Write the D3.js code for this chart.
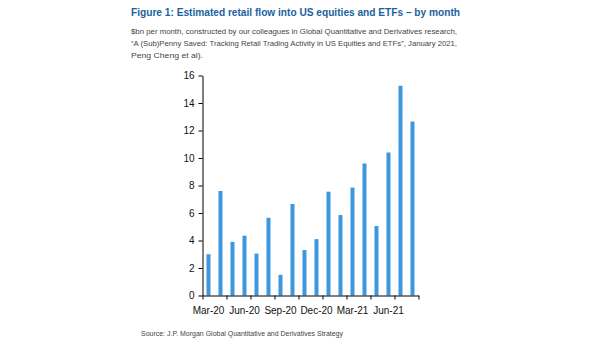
<!DOCTYPE html>
<html>
<head>
<meta charset="utf-8">
<script src="https://cdn.jsdelivr.net/npm/d3@7"></script>
<style>
  html, body { margin: 0; padding: 0; background: #fff; }
  svg { display: block; font-family: "Liberation Sans", Arial, sans-serif; }
</style>
</head>
<body>
<svg id="chart" width="605" height="341"></svg>
<script>
// Monthly retail flow into US equities and ETFs, $bn
const months = ["Mar-20","Apr-20","May-20","Jun-20","Jul-20","Aug-20","Sep-20","Oct-20","Nov-20",
                "Dec-20","Jan-21","Feb-21","Mar-21","Apr-21","May-21","Jun-21","Jul-21","Aug-21"];
const flows = [3.0, 7.6, 3.9, 4.35, 3.05, 5.65, 1.5, 6.65, 3.3, 4.1, 7.55, 5.85, 7.85, 9.6, 5.05, 10.4, 15.25, 12.65];
const xLabels = ["Mar-20","Jun-20","Sep-20","Dec-20","Mar-21","Jun-21"];
const yTicks = [0, 2, 4, 6, 8, 10, 12, 14, 16];

const title = "Figure 1: Estimated retail flow into US equities and ETFs \u2013 by month";
const notes = [
  "$bn per month, constructed by our colleagues in Global Quantitative and Derivatives research,",
  "\u201CA (Sub)Penny Saved: Tracking Retail Trading Activity in US Equities and ETFs\u201D, January 2021,",
  "Peng Cheng et al)."
];
const source = "Source: J.P. Morgan Global Quantitative and Derivatives Strategy";

const svg = d3.select("#chart");

// Header
svg.append("text")
  .attr("x", 131).attr("y", 15.5)
  .attr("font-size", 10.5).attr("font-weight", "bold")
  .attr("fill", "#1b62a0")
  .attr("textLength", 329).attr("lengthAdjust", "spacingAndGlyphs")
  .text(title);

const noteLen = [326, 326, 72];
notes.forEach((t, i) => {
  svg.append("text")
    .attr("x", 131).attr("y", 33.5 + i * 12)
    .attr("font-size", 7.8).attr("fill", "#444")
    .attr("textLength", noteLen[i]).attr("lengthAdjust", "spacingAndGlyphs")
    .text(t);
});

svg.append("text")
  .attr("x", 141).attr("y", 335.5)
  .attr("font-size", 7).attr("fill", "#444")
  .attr("textLength", 202).attr("lengthAdjust", "spacingAndGlyphs")
  .text(source);

// Plot area
const x0 = 202.5, x1 = 418.5, yBottom = 295.5, yTop = 75.5;

const x = d3.scaleBand()
  .domain(months)
  .range([x0, x1])
  .paddingInner(2 / 3)
  .paddingOuter(1 / 3);

const y = d3.scaleLinear().domain([0, 16]).range([yBottom, yTop]);

// Bars
svg.append("g")
  .selectAll("rect")
  .data(months.map((m, i) => ({ m, v: flows[i] })))
  .join("rect")
  .attr("x", d => x(d.m))
  .attr("width", x.bandwidth())
  .attr("y", d => y(d.v))
  .attr("height", d => y(0) - y(d.v))
  .attr("fill", "#3d97dc");

// Y axis
const yAxis = svg.append("g")
  .attr("transform", `translate(${x0},0)`)
  .call(d3.axisLeft(y).tickValues(yTicks).tickSize(4).tickSizeOuter(0).tickPadding(4));
yAxis.selectAll("text").attr("font-size", 10).attr("fill", "#111")
  .attr("font-family", "'Liberation Sans', Arial, sans-serif");
yAxis.selectAll("line, path").attr("stroke", "#000");

// X axis: tick marks every two months at band boundaries
const xb = d3.scaleLinear().domain([0, months.length]).range([x0, x1]);
const xAxis = svg.append("g")
  .attr("transform", `translate(0,${yBottom})`)
  .call(d3.axisBottom(xb).tickValues(d3.range(0, months.length + 1, 2))
    .tickSize(4).tickSizeOuter(0).tickFormat(""));
xAxis.selectAll("line, path").attr("stroke", "#000");

// Quarterly month labels centred under their bars
svg.append("g")
  .selectAll("text")
  .data(xLabels)
  .join("text")
  .attr("x", d => x(d) + x.bandwidth() / 2)
  .attr("y", 313.5)
  .attr("text-anchor", "middle")
  .attr("font-size", 10).attr("fill", "#111")
  .text(d => d);
</script>
</body>
</html>
